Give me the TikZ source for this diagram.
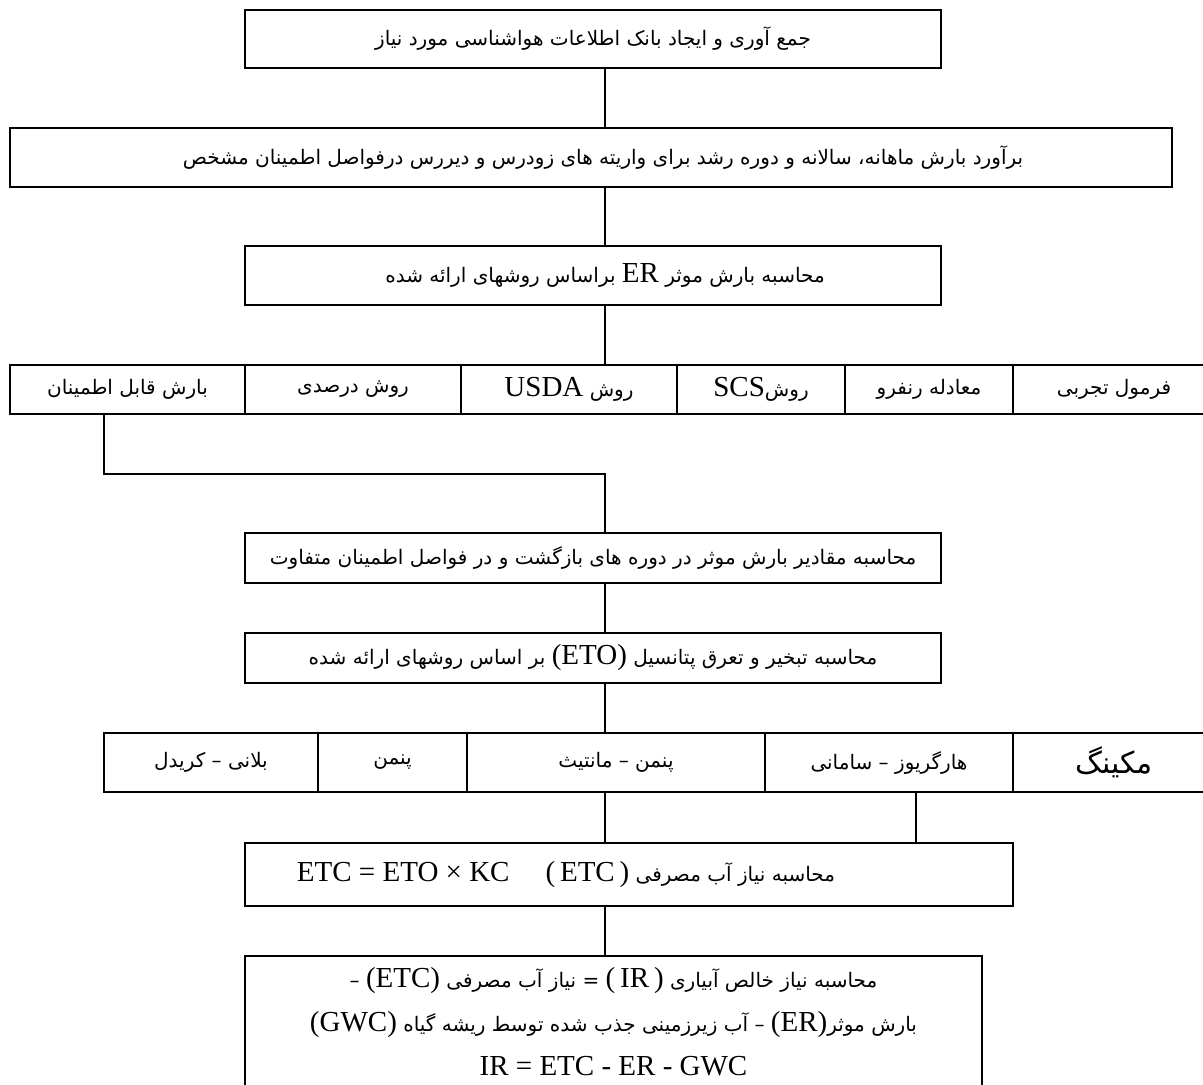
\documentclass[tikz,border=0pt]{standalone}
\usepackage{fontspec}
\setmainfont{Liberation Serif}
\newfontfamily\fa[Script=Arabic]{DejaVu Sans}
\TeXXeTstate=1
\newcommand{\fatxt}[1]{{\fa\fontsize{10}{12}\selectfont\beginR #1\endR}}
\newcommand{\lat}[1]{{\rmfamily\fontsize{14.5}{17}\selectfont\beginL #1\endL}}

\begin{document}
\begin{tikzpicture}[x=0.5pt,y=-0.5pt]
		\tikzstyle{box}=[draw,line width=1.2pt,inner sep=0pt]
		\tikzstyle{cell}=[draw,line width=1.2pt,inner sep=0pt]
		\tikzstyle{link}=[line width=1.2pt]

		\useasboundingbox (0,0) rectangle (1203,1084);
		\clip (0,0) rectangle (1203,1084);

		\node[box,minimum width=348pt,minimum height=29pt](b1) at (593,39){\raisebox{3pt}{\fatxt{جمع آوری و ایجاد بانک اطلاعات هواشناسی مورد نیاز}}};
		\node[box,minimum width=581pt,minimum height=29.5pt](b2) at (591,157.5){\fatxt{برآورد بارش ماهانه، سالانه و دوره رشد برای واریته های زودرس و دیررس درفواصل اطمینان مشخص}\hspace*{-12pt}};
		\node[box,minimum width=348pt,minimum height=29.5pt](er) at (593,275.5){\raisebox{3pt}{\fatxt{محاسبه بارش موثر \lat{ER} براساس روشهای ارائه شده}}\hspace*{-12pt}};

		\node[cell,minimum width=117.5pt,minimum height=24.5pt](r1a) at (127.5,389.5){\fatxt{بارش قابل اطمینان}};
		\node[cell,minimum width=108pt,minimum height=24.5pt](r1b) at (353,389.5){\fatxt{روش درصدی}};
		\node[cell,minimum width=108pt,minimum height=24.5pt](r1c) at (569,389.5){\fatxt{روش \lat{USDA}}};
		\node[cell,minimum width=84pt,minimum height=24.5pt](r1d) at (761,389.5){\fatxt{روش\lat{SCS}}};
		\node[cell,minimum width=84pt,minimum height=24.5pt](r1e) at (929,389.5){\fatxt{معادله رنفرو}};
		\node[cell,minimum width=101pt,minimum height=24.5pt](r1f) at (1114,389.5){\fatxt{فرمول تجربی}};

		\node[box,minimum width=348pt,minimum height=25pt](b4) at (593,558){\fatxt{محاسبه مقادیر بارش موثر در دوره های بازگشت و در فواصل اطمینان متفاوت}};
		\node[box,minimum width=348pt,minimum height=25pt](eto) at (593,658){\fatxt{محاسبه تبخیر و تعرق پتانسیل \lat{(ETO)} بر اساس روشهای ارائه شده}};

		\node[cell,minimum width=107pt,minimum height=29.5pt](r2a) at (211,762.5){\fatxt{بلانی – کریدل}};
		\node[cell,minimum width=74.5pt,minimum height=29.5pt](r2b) at (392.5,762.5){\fatxt{پنمن}};
		\node[cell,minimum width=149pt,minimum height=29.5pt](r2c) at (616,762.5){\fatxt{پنمن – مانتیث}};
		\node[cell,minimum width=124pt,minimum height=29.5pt](r2d) at (889,762.5){\fatxt{هارگریوز – سامانی}};
		\node[cell,minimum width=101pt,minimum height=29.5pt](r2e) at (1114,762.5){\fatxt{\fontsize{15}{17}\selectfont مکینگ}};

		\node[box,minimum width=384pt,minimum height=31.5pt](etc) at (629,874.5){\raisebox{3pt}{\fatxt{محاسبه نیاز آب مصرفی \lat{(\,ETC\,)}\hspace{18pt}\lat{ETC = ETO × KC}}}\hspace*{63pt}};
		\node[box,minimum width=368.5pt,minimum height=66pt,align=center,font=\fontsize{10}{22}\selectfont](ir) at (613.5,1022){\fatxt{محاسبه نیاز  خالص آبیاری \lat{(\,IR\,)} = نیاز آب مصرفی \lat{(ETC)} –}\\
			\fatxt{بارش موثر\lat{(ER)} – آب زیرزمینی جذب شده توسط ریشه گیاه \lat{(GWC)}}\\
			\lat{IR = ETC - ER - GWC}};

		\coordinate (axis) at (605,0);
		\coordinate (axisb) at (916,0);
		\coordinate (bend) at (104,474);

		\draw[link] (b1.south -| axis) -- (b2.north -| axis);
		\draw[link] (b2.south -| axis) -- (er.north -| axis);
		\draw[link] (er.south -| axis) -- (r1c.north -| axis);
		\draw[link] (r1a.south -| bend) -- (bend) -- (bend -| axis) -- (b4.north -| axis);
		\draw[link] (b4.south -| axis) -- (eto.north -| axis);
		\draw[link] (eto.south -| axis) -- (r2c.north -| axis);
		\draw[link] (r2c.south -| axis) -- (etc.north -| axis);
		\draw[link] (r2d.south -| axisb) -- (etc.north -| axisb);
		\draw[link] (etc.south -| axis) -- (ir.north -| axis);
	\end{tikzpicture}
\end{document}
